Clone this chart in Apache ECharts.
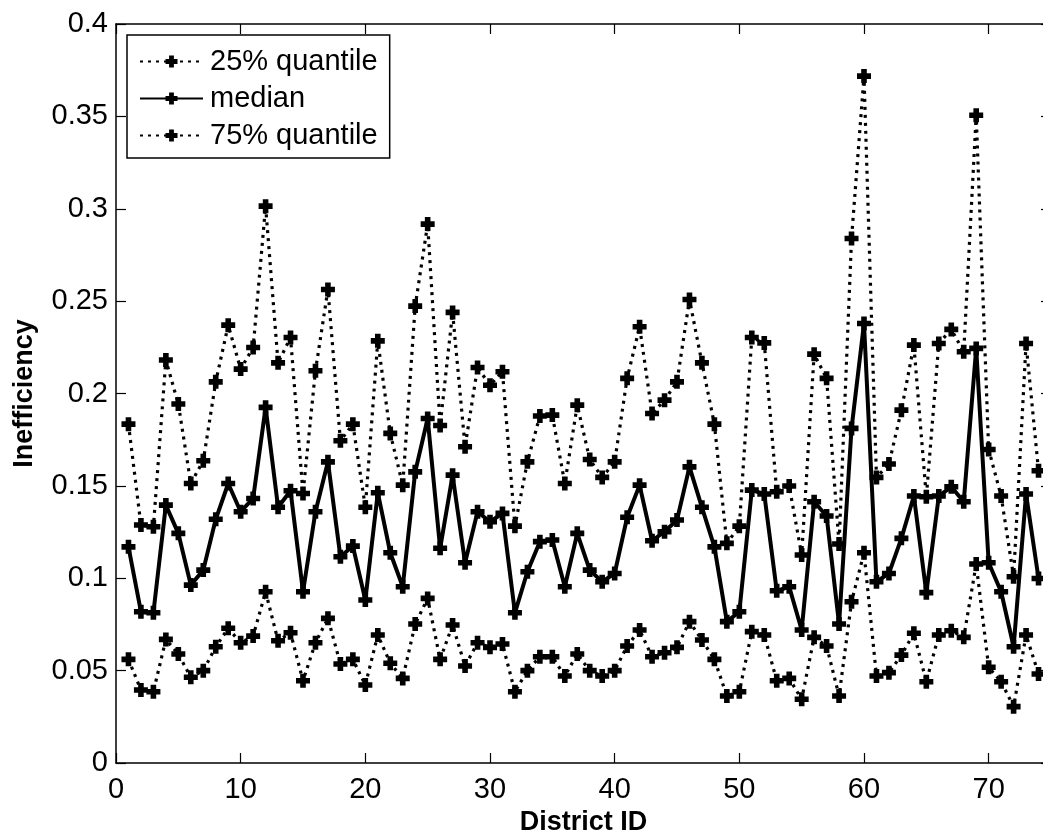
<!DOCTYPE html>
<html>
<head>
<meta charset="utf-8">
<script src="https://cdn.jsdelivr.net/npm/echarts@6/dist/echarts.min.js"></script>
<style>
html,body{margin:0;padding:0;background:#fff;overflow:hidden;width:1043px;height:833px;}
#chart{width:1051px;height:833px;}
</style>
</head>
<body>
<div id="chart"></div>
<script>
// District IDs 1..74
const districts = [1,2,3,4,5,6,7,8,9,10,11,12,13,14,15,16,17,18,19,20,21,22,23,24,25,26,27,28,29,30,31,32,33,34,35,36,37,38,39,40,41,42,43,44,45,46,47,48,49,50,51,52,53,54,55,56,57,58,59,60,61,62,63,64,65,66,67,68,69,70,71,72,73,74];

const q25 = [0.0561,0.0395,0.0386,0.0669,0.0590,0.0464,0.0500,0.0629,0.0729,0.0651,
             0.0687,0.0927,0.0662,0.0705,0.0445,0.0651,0.0783,0.0536,0.0561,0.0422,
             0.0693,0.0540,0.0458,0.0752,0.0891,0.0561,0.0747,0.0525,0.0651,0.0626,
             0.0644,0.0386,0.0500,0.0575,0.0575,0.0471,0.0590,0.0500,0.0471,0.0500,
             0.0633,0.0720,0.0575,0.0597,0.0626,0.0765,0.0666,0.0561,0.0363,0.0386,
             0.0711,0.0693,0.0445,0.0458,0.0345,0.0680,0.0633,0.0363,0.0873,0.1138,
             0.0471,0.0489,0.0584,0.0702,0.0440,0.0693,0.0716,0.0680,0.1077,0.0518,
             0.0440,0.0305,0.0693,0.0482];

const median = [0.1170,0.0819,0.0813,0.1396,0.1243,0.0963,0.1044,0.1319,0.1513,0.1360,
                0.1432,0.1925,0.1384,0.1474,0.0927,0.1360,0.1630,0.1116,0.1174,0.0882,
                0.1463,0.1138,0.0954,0.1576,0.1865,0.1162,0.1558,0.1084,0.1360,0.1306,
                0.1351,0.0813,0.1035,0.1198,0.1207,0.0954,0.1243,0.1044,0.0981,0.1026,
                0.1330,0.1504,0.1203,0.1252,0.1315,0.1603,0.1384,0.1170,0.0765,0.0819,
                0.1477,0.1456,0.0932,0.0954,0.0720,0.1414,0.1337,0.0752,0.1811,0.2379,
                0.0981,0.1026,0.1216,0.1445,0.0922,0.1445,0.1495,0.1414,0.2244,0.1084,
                0.0927,0.0629,0.1456,0.0999];

const q75 = [0.1834,0.1288,0.1279,0.2181,0.1943,0.1513,0.1636,0.2063,0.2370,0.2132,
             0.2249,0.3014,0.2166,0.2303,0.1459,0.2123,0.2563,0.1744,0.1834,0.1384,
             0.2285,0.1784,0.1504,0.2473,0.2917,0.1827,0.2439,0.1712,0.2141,0.2045,
             0.2118,0.1282,0.1630,0.1878,0.1883,0.1513,0.1937,0.1643,0.1546,0.1630,
             0.2082,0.2361,0.1892,0.1964,0.2063,0.2509,0.2166,0.1834,0.1189,0.1282,
             0.2303,0.2274,0.1468,0.1499,0.1126,0.2213,0.2082,0.1185,0.2839,0.3718,
             0.1546,0.1618,0.1910,0.2262,0.1441,0.2271,0.2347,0.2226,0.3506,0.1697,
             0.1445,0.1008,0.2271,0.1582];

const seriesNames = ['25% quantile','median','75% quantile'];
const xTicks = [0,10,20,30,40,50,60,70];
const yTicks = ['0','0.05','0.1','0.15','0.2','0.25','0.3','0.35','0.4'];

const FONT = "'Liberation Sans', Arial, sans-serif";
const plusPath = 'path://M3,0 L7,0 L7,3 L10,3 L10,7 L7,7 L7,10 L3,10 L3,7 L0,7 L0,3 L3,3 Z';

function pairs(arr){ return arr.map((v,i)=>[districts[i], v]); }

function mkSeries(name, arr, dotted){
  return {
    name: name,
    type: 'line',
    data: pairs(arr),
    symbol: plusPath,
    symbolSize: 14,
    showSymbol: true,
    itemStyle: {color: '#000'},
    lineStyle: dotted ? {color:'#000', width: 3.2, type: [3,5]} : {color:'#000', width: 4, type: 'solid'},
    emphasis: {disabled: true},
    animation: false
  };
}

const axisCommon = {
  axisLine: {show: true, onZero: false, lineStyle: {color: '#000', width: 1.5}},
  axisTick: {show: true, inside: true, length: 10, lineStyle: {color: '#000', width: 1.2}},
  splitLine: {show: false}
};

const chart = echarts.init(document.getElementById('chart'), null, {renderer: 'canvas'});
chart.setOption({
  backgroundColor: '#fff',
  animation: false,
  grid: {left: 116, right: 0, top: 24, bottom: 70, containLabel: false, outerBoundsMode: 'none'},
  legend: {
    orient: 'vertical',
    left: 127, top: 35,
    data: seriesNames,
    borderColor: '#000', borderWidth: 1.5,
    padding: [12, 12, 8, 12],
    itemGap: 8,
    itemWidth: 63, itemHeight: 15,
    backgroundColor: '#fff',
    textStyle: {fontFamily: FONT, fontSize: 29, color: '#000', padding: [0,0,0,2]},
    selectedMode: false
  },
  xAxis: [
    Object.assign({}, axisCommon, {
      type: 'value', min: 0, max: 75, interval: 10, position: 'bottom',
      name: 'District ID', nameLocation: 'middle', nameGap: 41,
      nameTextStyle: {fontFamily: FONT, fontSize: 27, fontWeight: 'bold', color: '#000'},
      axisLabel: {fontFamily: FONT, fontSize: 29, color: '#000', margin: 12, showMaxLabel: false,
        formatter: v => (xTicks.indexOf(v) >= 0 ? String(v) : '')}
    }),
    Object.assign({}, axisCommon, {
      type: 'value', min: 0, max: 75, interval: 10, position: 'top',
      axisLabel: {show: false}
    })
  ],
  yAxis: [
    Object.assign({}, axisCommon, {
      type: 'value', min: 0, max: 0.4, interval: 0.05, position: 'left',
      name: 'Inefficiency', nameLocation: 'middle', nameGap: 78, nameRotate: 90,
      nameTextStyle: {fontFamily: FONT, fontSize: 27, fontWeight: 'bold', color: '#000'},
      axisLabel: {fontFamily: FONT, fontSize: 29, color: '#000', margin: 8,
        formatter: v => yTicks[Math.round(v / 0.05)] || ''}
    }),
    Object.assign({}, axisCommon, {
      type: 'value', min: 0, max: 0.4, interval: 0.05, position: 'right',
      axisLabel: {show: false}
    })
  ],
  series: [
    mkSeries(seriesNames[0], q25, true),
    mkSeries(seriesNames[1], median, false),
    mkSeries(seriesNames[2], q75, true)
  ]
});
</script>
</body>
</html>
